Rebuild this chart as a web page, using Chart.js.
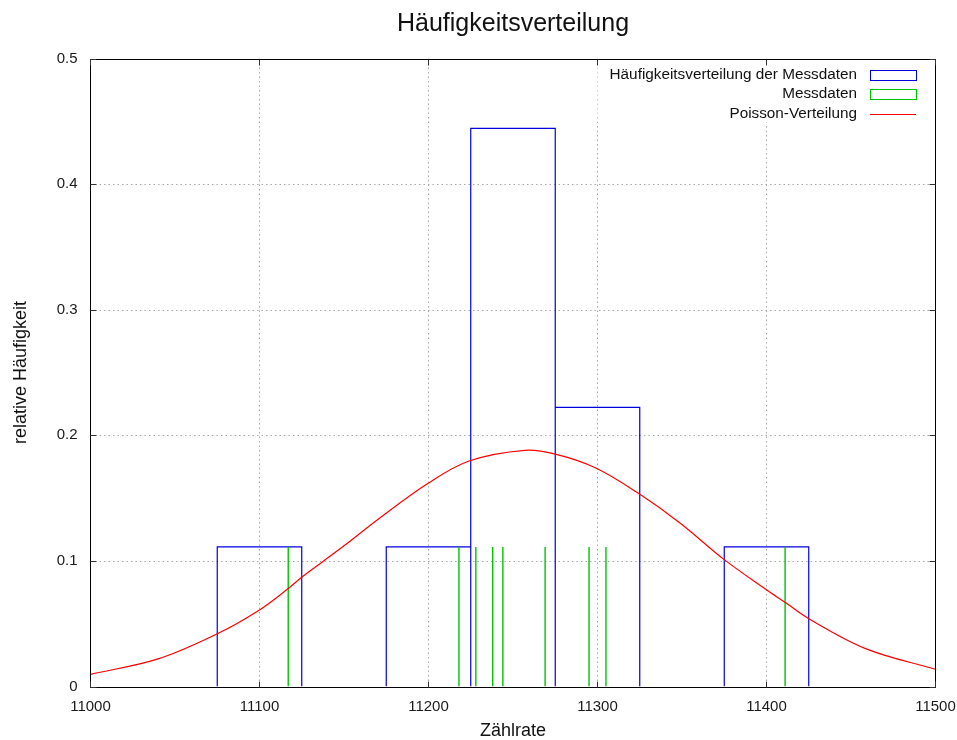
<!DOCTYPE html>
<html><head><meta charset="utf-8">
<script src="https://cdn.jsdelivr.net/npm/chart.js@4.4.1/dist/chart.umd.min.js"></script>
<style>html,body{margin:0;padding:0;background:#fff;}</style>
</head><body>
<canvas id="c" width="957" height="740"></canvas>
<script>
// ---- data ----
const chartTitle = 'Häufigkeitsverteilung';
const xAxisTitle = 'Zählrate';
const yAxisTitle = 'relative Häufigkeit';
const seriesLabels = ['Häufigkeitsverteilung der Messdaten', 'Messdaten', 'Poisson-Verteilung'];

const binCenters = [11100, 11200, 11250, 11300, 11400];
const binWidth = 50;
const binRelFreq = [0.1111, 0.1111, 0.4444, 0.2222, 0.1111];

const measurements = [11117, 11218, 11228, 11238, 11244, 11269, 11295, 11305, 11411];
const measurementRelFreq = [0.1111, 0.1111, 0.1111, 0.1111, 0.1111, 0.1111, 0.1111, 0.1111, 0.1111];

const poissonX = [11000, 11040, 11075, 11100, 11117, 11125, 11137, 11150, 11171, 11200, 11224, 11257, 11275, 11299, 11324, 11349, 11375, 11400, 11411, 11425, 11459, 11500];
const poissonY = [0.0097, 0.022, 0.042, 0.061, 0.078, 0.087, 0.099, 0.112, 0.134, 0.162, 0.1795, 0.188, 0.185, 0.174, 0.154, 0.130, 0.101, 0.077, 0.067, 0.054, 0.030, 0.0137];

const xMin = 11000, xMax = 11500, xStep = 100;
const yMin = 0, yMax = 0.5, yStep = 0.1;

// ---- build library datasets ----
const histPoints = [];
binCenters.forEach((c, i) => {
  const l = c - binWidth / 2, r = c + binWidth / 2;
  histPoints.push({x: l, y: 0}, {x: l, y: binRelFreq[i]}, {x: r, y: binRelFreq[i]}, {x: r, y: 0}, {x: r, y: null});
});
const impulsePoints = [];
measurements.forEach((m, i) => {
  impulsePoints.push({x: m, y: 0}, {x: m, y: measurementRelFreq[i]}, {x: m, y: null});
});
const curvePoints = poissonX.map((x, i) => ({x, y: poissonY[i]}));

const COLORS = {hist: 'rgb(0,0,220)', meas: 'rgb(0,195,0)', curve: 'rgb(255,0,0)'};
const FONT = "'Liberation Sans', Arial, sans-serif";
const LEGEND_FONT = '15.3px ' + FONT;

const framePlugin = {
  id: 'gnuframe',
  beforeDatasetsDraw(chart) {
    const {ctx, chartArea: a, scales: {x, y}} = chart;
    ctx.save();
    ctx.strokeStyle = '#a8a8a8';
    ctx.lineWidth = 1;
    ctx.setLineDash([1.5, 3]);
    x.ticks.forEach(t => {
      if (t.value <= xMin || t.value >= xMax) return;
      const px = Math.round(x.getPixelForValue(t.value)) - 0.5;
      ctx.beginPath(); ctx.moveTo(px, a.top); ctx.lineTo(px, a.bottom); ctx.stroke();
    });
    y.ticks.forEach(t => {
      if (t.value <= yMin + 1e-9 || t.value >= yMax - 1e-9) return;
      const py = Math.round(y.getPixelForValue(t.value)) + 0.5;
      ctx.beginPath(); ctx.moveTo(a.left, py); ctx.lineTo(a.right, py); ctx.stroke();
    });
    ctx.setLineDash([]);
    // legend background (opaque key)
    ctx.font = LEGEND_FONT;
    const w = Math.max(...seriesLabels.map(s => ctx.measureText(s).width));
    const sampleRight = a.right - 19.5, sampleLeft = sampleRight - 46;
    const textRight = sampleLeft - 13;
    ctx.fillStyle = '#fff';
    ctx.fillRect(textRight - w - 12, a.top + 1, a.right - (textRight - w - 12) - 1, 63);
    ctx.restore();
  },
  afterDatasetsDraw(chart) {
    const {ctx, chartArea: a, scales: {x, y}} = chart;
    ctx.save();
    ctx.strokeStyle = '#000';
    ctx.lineWidth = 1;
    const L = Math.round(a.left) - 0.5, R = Math.round(a.right) - 0.5;
    const T = Math.round(a.top) + 0.5, B = Math.round(a.bottom) + 0.5;
    ctx.strokeRect(L, T, R - L, B - T);
    ctx.strokeStyle = '#333';
    const tl = 6;
    x.ticks.forEach(t => {
      const px = Math.round(x.getPixelForValue(t.value)) - 0.5;
      ctx.beginPath();
      ctx.moveTo(px, B); ctx.lineTo(px, B - tl);
      ctx.moveTo(px, T); ctx.lineTo(px, T + tl);
      ctx.stroke();
    });
    y.ticks.forEach(t => {
      const py = Math.round(y.getPixelForValue(t.value)) + 0.5;
      ctx.beginPath();
      ctx.moveTo(L, py); ctx.lineTo(L + tl, py);
      ctx.moveTo(R, py); ctx.lineTo(R - tl, py);
      ctx.stroke();
    });
    // legend
    ctx.font = LEGEND_FONT;
    ctx.textAlign = 'right';
    ctx.textBaseline = 'middle';
    ctx.fillStyle = '#111';
    const sampleRight = a.right - 19.5, sampleLeft = sampleRight - 46;
    const textRight = sampleLeft - 13;
    const rows = [a.top + 16, a.top + 35.6, a.top + 55.2];
    const cols = [COLORS.hist, COLORS.meas, COLORS.curve];
    rows.forEach((ry, i) => {
      ctx.fillText(seriesLabels[i], textRight, ry);
      ctx.strokeStyle = cols[i];
      const yy = Math.round(ry) + 0.5;
      if (i < 2) {
        ctx.strokeRect(Math.round(sampleLeft) + 0.5, yy - 5, 46, 10);
      } else {
        ctx.beginPath(); ctx.moveTo(sampleLeft, yy); ctx.lineTo(sampleRight, yy); ctx.stroke();
      }
    });
    // title centred over the plot area
    ctx.font = '25px ' + FONT;
    ctx.textAlign = 'center';
    ctx.fillStyle = '#111';
    ctx.fillText(chartTitle, (a.left + a.right) / 2, 24);
    ctx.restore();
  }
};

new Chart(document.getElementById('c'), {
  type: 'line',
  data: {
    datasets: [
      {label: seriesLabels[0], data: histPoints, borderColor: COLORS.hist, borderWidth: 1.2, pointRadius: 0, fill: false, tension: 0, spanGaps: false, order: 3},
      {label: seriesLabels[1], data: impulsePoints, borderColor: COLORS.meas, borderWidth: 1.4, pointRadius: 0, fill: false, tension: 0, spanGaps: false, order: 2},
      {label: seriesLabels[2], data: curvePoints, borderColor: COLORS.curve, borderWidth: 1.2, pointRadius: 0, fill: false, tension: 0.35, order: 1}
    ]
  },
  options: {
    responsive: false,
    animation: false,
    devicePixelRatio: 1,
    layout: {padding: {left: 0, right: 21.5, top: 58.5, bottom: 0}},
    plugins: {
      legend: {display: false},
      tooltip: {enabled: false},
      title: {display: false}
    },
    scales: {
      x: {
        type: 'linear', min: xMin, max: xMax,
        ticks: {stepSize: xStep, color: '#1a1a1a', font: {family: FONT, size: 15}, padding: 11, maxRotation: 0, callback: v => String(v)},
        grid: {display: false, drawTicks: false}, border: {display: false},
        title: {display: true, text: xAxisTitle, color: '#111', font: {family: FONT, size: 18, lineHeight: 1}, padding: {top: 0, bottom: 0}},
        afterFit: s => { s.height = 53.5; s.paddingLeft = 0; s.paddingRight = 0; }
      },
      y: {
        type: 'linear', min: yMin, max: yMax,
        ticks: {stepSize: yStep, color: '#1a1a1a', font: {family: FONT, size: 15}, padding: 13, callback: v => (Math.round(v * 10) / 10).toString()},
        grid: {display: false, drawTicks: false}, border: {display: false},
        title: {display: true, text: yAxisTitle, color: '#111', font: {family: FONT, size: 18, lineHeight: 1.2}, padding: {top: 10, bottom: 0}},
        afterFit: s => { s.width = 90.5; s.paddingTop = 0; s.paddingBottom = 0; }
      }
    }
  },
  plugins: [framePlugin]
});
</script>
</body></html>
